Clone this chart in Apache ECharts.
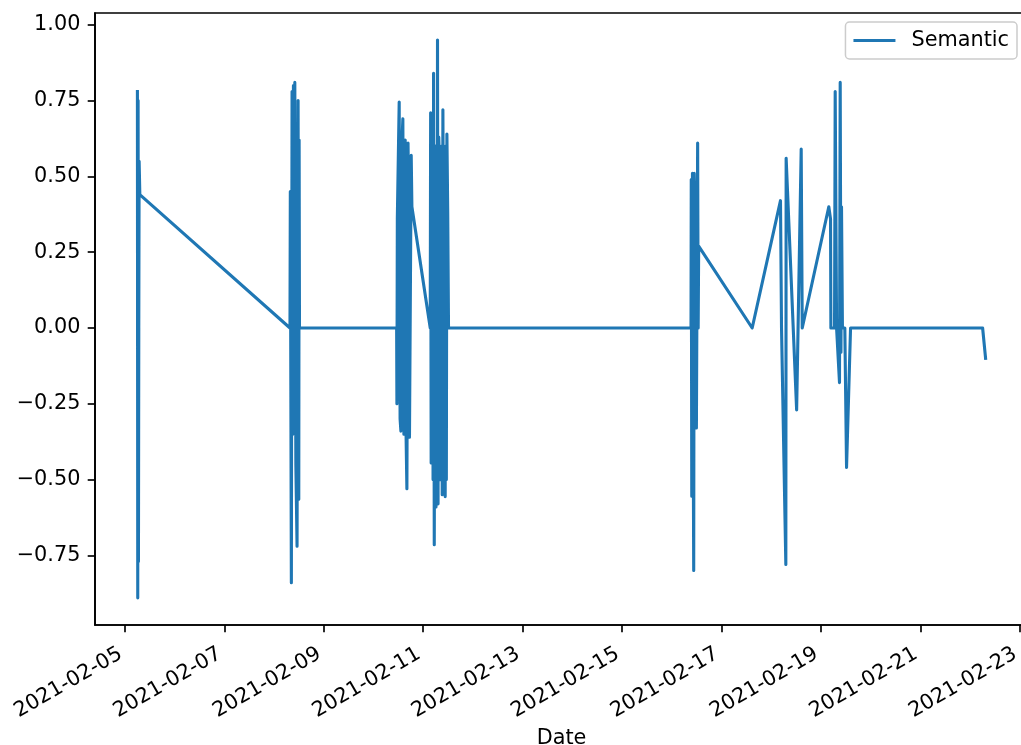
<!DOCTYPE html>
<html>
<head>
<meta charset="utf-8">
<script src="https://cdn.jsdelivr.net/npm/echarts@6/dist/echarts.min.js"></script>
<style>
  html, body { margin: 0; padding: 0; background: #ffffff; }
  #chart { width: 1021px; height: 745px; }
</style>
</head>
<body>
<div id="chart"></div>
<script>
// ---- data (UTC timestamps) ----
const dates = [
  '2021-02-05 06:00','2021-02-05 06:10','2021-02-05 06:20','2021-02-05 06:30','2021-02-05 06:40','2021-02-05 06:50','2021-02-05 07:10',
  '2021-02-08 07:40','2021-02-08 07:50','2021-02-08 08:20','2021-02-08 08:40','2021-02-08 09:00','2021-02-08 09:20','2021-02-08 09:40','2021-02-08 10:00','2021-02-08 10:30','2021-02-08 11:05','2021-02-08 11:35','2021-02-08 11:55','2021-02-08 12:05','2021-02-08 12:15',
  '2021-02-10 11:10','2021-02-10 11:18','2021-02-10 11:30','2021-02-10 12:24','2021-02-10 12:50','2021-02-10 13:13','2021-02-10 13:40','2021-02-10 14:10','2021-02-10 14:40','2021-02-10 15:18','2021-02-10 15:40','2021-02-10 16:07','2021-02-10 16:40','2021-02-10 17:00','2021-02-10 17:22','2021-02-10 18:12','2021-02-10 18:32',
  '2021-02-11 03:23','2021-02-11 03:35','2021-02-11 03:50','2021-02-11 04:10','2021-02-11 04:30','2021-02-11 04:45','2021-02-11 05:00','2021-02-11 05:20','2021-02-11 05:50','2021-02-11 06:10','2021-02-11 06:30','2021-02-11 06:40','2021-02-11 06:54','2021-02-11 07:10','2021-02-11 07:30','2021-02-11 07:50','2021-02-11 08:10','2021-02-11 08:40','2021-02-11 08:55','2021-02-11 09:10','2021-02-11 09:30','2021-02-11 10:00','2021-02-11 10:20','2021-02-11 10:36','2021-02-11 10:55','2021-02-11 11:10','2021-02-11 11:26','2021-02-11 11:50','2021-02-11 12:13',
  '2021-02-16 09:18','2021-02-16 09:25','2021-02-16 09:40','2021-02-16 10:00','2021-02-16 10:20','2021-02-16 10:36','2021-02-16 10:50','2021-02-16 11:10','2021-02-16 11:24','2021-02-16 11:40','2021-02-16 11:54','2021-02-16 12:30','2021-02-16 12:45','2021-02-16 13:00',
  '2021-02-17 14:50',
  '2021-02-18 04:30','2021-02-18 05:00','2021-02-18 07:05','2021-02-18 07:14','2021-02-18 12:18','2021-02-18 14:30','2021-02-18 15:00',
  '2021-02-19 03:50','2021-02-19 04:40','2021-02-19 04:50','2021-02-19 06:36','2021-02-19 06:55','2021-02-19 07:35','2021-02-19 09:00','2021-02-19 09:20','2021-02-19 09:42','2021-02-19 09:58','2021-02-19 10:25','2021-02-19 11:34','2021-02-19 12:24','2021-02-19 14:20',
  '2021-02-22 06:06','2021-02-22 07:32'
];
const semantic = [
  0.78, -0.89, 0.75, -0.77, 0.0, 0.55, 0.44,
  0.0, 0.45, -0.84, 0.78, -0.35, 0.80, -0.30, 0.81, -0.45, -0.72, 0.75, -0.565, 0.62, 0.0,
  0.0, -0.25, 0.36, 0.745, -0.30, -0.34, 0.60, 0.69, -0.35, 0.62, -0.33, -0.53, 0.61, 0.40, -0.36, 0.57, 0.40,
  0.0, 0.71, -0.445, -0.40, 0.64, -0.50, 0.84, -0.715, 0.60, -0.59, 0.60, -0.55, 0.95, -0.58, 0.63, 0.55, -0.50, -0.25, 0.60, -0.55, 0.72, -0.23, 0.55, -0.556, 0.60, -0.50, 0.64, 0.38, 0.0,
  0.0, 0.49, -0.555, 0.51, -0.30, -0.80, 0.51, 0.40, -0.25, 0.45, -0.33, 0.61, 0.0, 0.27,
  0.0,
  0.42, 0.0, -0.78, 0.56, -0.27, 0.59, 0.0,
  0.40, 0.36, 0.0, 0.0, 0.78, 0.0, -0.18, 0.81, -0.08, 0.40, 0.0, 0.0, -0.46, 0.0,
  0.0, -0.10
];
const seriesName = 'Semantic';
const xTickLabels = ['2021-02-05','2021-02-07','2021-02-09','2021-02-11','2021-02-13','2021-02-15','2021-02-17','2021-02-19','2021-02-21','2021-02-23'];
const yTicks = [-0.75, -0.50, -0.25, 0.00, 0.25, 0.50, 0.75, 1.00];
const xName = 'Date';

// ---- helpers ----
function toUTC(s) {
  const [d, t] = s.split(' ');
  const [Y, M, D] = d.split('-').map(Number);
  const [h, m] = (t || '00:00').split(':').map(Number);
  return Date.UTC(Y, M - 1, D, h, m);
}
const pts = dates.map((d, i) => [toUTC(d), semantic[i]]);
const tMin = pts[0][0], tMax = pts[pts.length - 1][0];
const span = tMax - tMin;
const xMin = tMin - 0.05 * span, xMax = tMax + 0.05 * span;
const xTicks = xTickLabels.map(toUTC);

const FONT = 'DejaVu Sans';
const FS = 20.8;
const chart = echarts.init(document.getElementById('chart'), null, { renderer: 'canvas' });
chart.setOption({
  animation: false,
  backgroundColor: '#ffffff',
  grid: {
    left: 95, top: 13, width: 933, height: 612,
    outerBoundsMode: 'none', containLabel: false,
    show: true, borderColor: '#000000', borderWidth: 1.67, backgroundColor: 'transparent'
  },
  legend: {
    data: [seriesName], right: 4, top: 22,
    icon: 'rect', itemWidth: 42, itemHeight: 3,
    padding: [8, 8, 8, 8],
    borderColor: '#cccccc', borderWidth: 1.5, borderRadius: 4,
    backgroundColor: 'rgba(255,255,255,0.8)',
    textStyle: { fontFamily: FONT, fontSize: FS, color: '#000000', padding: [0, 0, 0, 11] }
  },
  xAxis: {
    type: 'value', min: xMin, max: xMax,
    name: xName, nameLocation: 'middle', nameGap: 100,
    nameTextStyle: { fontFamily: FONT, fontSize: FS, color: '#000000' },
    splitLine: { show: false },
    axisLine: { show: true, onZero: false, lineStyle: { color: '#000000', width: 1.67 } },
    axisTick: { show: true, customValues: xTicks, length: 7.3, lineStyle: { color: '#000000', width: 1.67 } },
    axisLabel: {
      customValues: xTicks, rotate: 30, margin: 25,
      fontFamily: FONT, fontSize: FS, color: '#000000',
      padding: [0, 5, 0, 0],
      formatter: v => new Date(v).toISOString().slice(0, 10)
    }
  },
  yAxis: {
    type: 'value', min: -0.9795, max: 1.0389,
    splitLine: { show: false },
    axisLine: { show: true, onZero: false, lineStyle: { color: '#000000', width: 1.67 } },
    axisTick: { show: true, customValues: yTicks, length: 7.3, lineStyle: { color: '#000000', width: 1.67 } },
    axisLabel: {
      customValues: yTicks, margin: 14.6,
      fontFamily: FONT, fontSize: FS, color: '#000000',
      formatter: v => (v < 0 ? '\u2212' : '') + Math.abs(v).toFixed(2)
    }
  },
  series: [{
    name: seriesName, type: 'line', data: pts,
    showSymbol: false, symbol: 'none',
    color: '#1f77b4',
    lineStyle: { color: '#1f77b4', width: 3.1, join: 'round', cap: 'square' },
    itemStyle: { color: '#1f77b4' }
  }]
});
</script>
</body>
</html>
